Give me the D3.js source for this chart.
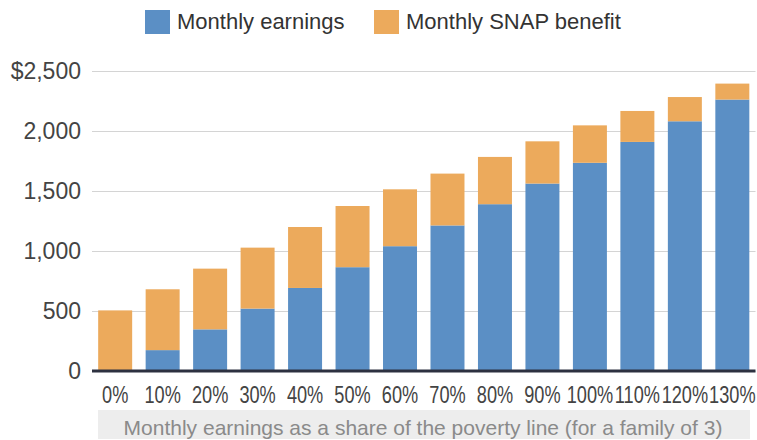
<!DOCTYPE html>
<html>
<head>
<meta charset="utf-8">
<script src="https://cdn.jsdelivr.net/npm/d3@7"></script>
<style>
  body { margin: 0; background: #fff; }
  svg { display: block; }
</style>
</head>
<body>
<div id="chart"></div>
<script>
// values (dollars per month)
const categories = ["0%", "10%", "20%", "30%", "40%", "50%", "60%", "70%", "80%", "90%", "100%", "110%", "120%", "130%"];
const earnings = [0, 174, 347, 520, 692, 865, 1040, 1213, 1390, 1562, 1735, 1909, 2081, 2262];
const snap = [505, 507, 506, 508, 508, 510, 474, 432, 394, 352, 312, 258, 202, 133];
const yTicks = [0, 500, 1000, 1500, 2000, 2500];
const seriesNames = ["Monthly earnings", "Monthly SNAP benefit"];

const width = 757, height = 440;
const margin = {top: 71, right: 1.5, bottom: 69, left: 92};
const colors = {earn: "#5b8fc5", snap: "#ecaa5c"};

let svg = d3.select("#chart")
    .append("svg")
    .attr("width", width)
    .attr("height", height);

let rows = categories.map((c, i) => ({cat: c, earn: earnings[i], snap: snap[i]}));

let x = d3.scaleBand()
    .domain(categories)
    .range([margin.left, width - margin.right])
    .paddingInner(0.284)
    .paddingOuter(0.13);

let y = d3.scaleLinear()
    .domain([0, 2500])
    .range([height - margin.bottom, margin.top]);

// gridlines + y labels
let yAxis = svg.append("g")
    .attr("transform", `translate(${margin.left},0)`)
    .call(d3.axisLeft(y)
        .tickValues(yTicks)
        .tickSize(-(width - margin.left - margin.right))
        .tickPadding(11)
        .tickFormat(d => d === 2500 ? "$2,500" : d3.format(",")(d)));
yAxis.select(".domain").remove();
yAxis.selectAll(".tick line").attr("stroke", "#d4d4d4").attr("stroke-width", 1.2);
yAxis.selectAll(".tick text")
    .attr("fill", "#444")
    .style("font-family", "'Liberation Sans', Arial, sans-serif")
    .style("font-size", "23px");

// stacked bars
let stack = d3.stack().keys(["earn", "snap"]);
let layers = stack(rows);

svg.append("g")
    .selectAll("g")
    .data(layers)
    .join("g")
    .attr("fill", d => colors[d.key])
    .selectAll("rect")
    .data(d => d)
    .join("rect")
    .attr("x", d => x(d.data.cat))
    .attr("y", d => y(d[1]))
    .attr("width", x.bandwidth())
    .attr("height", d => y(d[0]) - y(d[1]));

// x axis with heavy baseline
let xAxis = svg.append("g")
    .attr("transform", `translate(0,${y(0)})`)
    .call(d3.axisBottom(x).tickSize(0).tickPadding(16));
xAxis.select(".domain")
    .attr("stroke", "#2d3140")
    .attr("stroke-width", 3)
    .attr("d", `M${margin.left},0H${width - margin.right}`);
// labels are set in a condensed face in the original: squeeze them horizontally
xAxis.selectAll(".tick text")
    .attr("fill", "#444")
    .attr("transform", "scale(0.79,1)")
    .style("font-family", "'Liberation Sans', Arial, sans-serif")
    .style("font-size", "23px");

// x caption on grey band
svg.append("rect")
    .attr("x", 98)
    .attr("y", 410)
    .attr("width", 652)
    .attr("height", 29)
    .attr("fill", "#ededed");
svg.append("text")
    .attr("x", 423)
    .attr("y", 435)
    .attr("text-anchor", "middle")
    .attr("fill", "#8a8a8a")
    .style("font-family", "'Liberation Sans', Arial, sans-serif")
    .style("font-size", "21px")
    .text("Monthly earnings as a share of the poverty line (for a family of 3)");

// legend
let legendX = [145, 374];
let legend = svg.append("g")
    .selectAll("g")
    .data(seriesNames)
    .join("g")
    .attr("transform", (d, i) => `translate(${legendX[i]},10)`);
legend.append("rect")
    .attr("width", 25)
    .attr("height", 24)
    .attr("fill", (d, i) => i === 0 ? colors.earn : colors.snap);
legend.append("text")
    .attr("x", 32)
    .attr("y", 19)
    .attr("fill", "#333")
    .style("font-family", "'Liberation Sans', Arial, sans-serif")
    .style("font-size", "22px")
    .text(d => d);
</script>
</body>
</html>
